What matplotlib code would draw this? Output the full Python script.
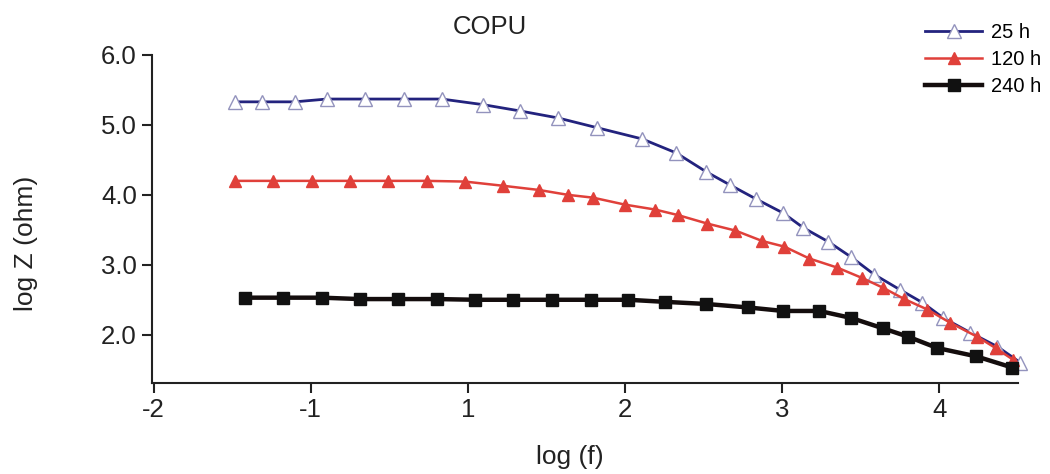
import matplotlib
matplotlib.use("Agg")
import matplotlib.pyplot as plt

plt.rcParams['font.family'] = ['Liberation Sans', 'DejaVu Sans']

# x positions on the drawn axis (tick labels below are the printed ones)
tick_pos = [-2, -1, 0, 1, 2, 3]
tick_labels = ['-2', '-1', '1', '2', '3', '4']
y_ticks = [2.0, 3.0, 4.0, 5.0, 6.0]

x_25h = [-1.484, -1.312, -1.102, -0.898, -0.656, -0.408, -0.166, 0.096, 0.331, 0.573,
         0.822, 1.108, 1.325, 1.516, 1.669, 1.834, 2.006, 2.134, 2.293, 2.439,
         2.586, 2.752, 2.892, 3.025, 3.197, 3.369, 3.516]
y_25h = [5.33, 5.33, 5.33, 5.37, 5.37, 5.37, 5.37, 5.29, 5.20, 5.10,
         4.96, 4.80, 4.60, 4.33, 4.14, 3.94, 3.74, 3.53, 3.33, 3.11,
         2.86, 2.64, 2.46, 2.24, 2.03, 1.83, 1.60]

x_120h = [-1.484, -1.242, -0.994, -0.752, -0.510, -0.261, -0.019, 0.223, 0.452, 0.637,
          0.796, 1.000, 1.191, 1.338, 1.522, 1.701, 1.873, 2.013, 2.172, 2.350,
          2.510, 2.643, 2.777, 2.924, 3.070, 3.242, 3.357, 3.471]
y_120h = [4.20, 4.20, 4.20, 4.20, 4.20, 4.20, 4.19, 4.13, 4.07, 4.00,
          3.96, 3.86, 3.79, 3.71, 3.59, 3.49, 3.34, 3.26, 3.09, 2.96,
          2.81, 2.67, 2.51, 2.36, 2.17, 1.97, 1.81, 1.64]

x_240h = [-1.420, -1.178, -0.930, -0.688, -0.446, -0.197, 0.045, 0.287, 0.535, 0.783,
          1.019, 1.255, 1.516, 1.783, 2.006, 2.236, 2.439, 2.643, 2.803, 2.987,
          3.236, 3.465]
y_240h = [2.53, 2.53, 2.53, 2.51, 2.51, 2.51, 2.50, 2.50, 2.50, 2.50,
          2.50, 2.47, 2.44, 2.39, 2.34, 2.34, 2.24, 2.09, 1.97, 1.81,
          1.69, 1.53]

fig = plt.figure(figsize=(10.5, 4.74), dpi=100)
ax = fig.add_axes([0.1448, 0.192, 0.8247, 0.692])

ax.plot(x_25h, y_25h, color='#23237e', lw=2.0, marker='^', ms=10,
        mfc='white', mec='#9393bd', mew=1.0, clip_on=False, label='25 h', zorder=3)
ax.plot(x_120h, y_120h, color='#e0403a', lw=1.8, marker='^', ms=8.5,
        mfc='#e0403a', mec='#e0403a', clip_on=False, label='120 h', zorder=4)
ax.plot(x_240h, y_240h, color='#140d0d', lw=3.2, marker='s', ms=8.5,
        mfc='#111111', mec='#111111', clip_on=False, label='240 h', zorder=5)

ax.set_xlim(-2.01, 3.5)
ax.set_ylim(1.31, 6.0)
ax.set_xticks(tick_pos)
ax.set_xticklabels(tick_labels)
ax.set_yticks(y_ticks)
ax.set_yticklabels([f'{v:.1f}' for v in y_ticks])

for s in ['top', 'right']:
    ax.spines[s].set_visible(False)
for s in ['left', 'bottom']:
    ax.spines[s].set_linewidth(1.5)
    ax.spines[s].set_color('#222222')
ax.tick_params(axis='both', direction='out', length=7, width=1.5, colors='#222222')
ax.tick_params(axis='y', labelsize=18.5, pad=4)
ax.tick_params(axis='x', labelsize=18.5, pad=4)

ax.set_xlabel('log (f)', fontsize=19, color='#222222')
ax.xaxis.set_label_coords(0.483, -0.19)
ax.set_ylabel('log Z (ohm)', fontsize=19, color='#222222')
ax.yaxis.set_label_coords(-0.132, 0.427)
ax.set_title('COPU', fontsize=18.5, pad=15, color='#222222', x=0.39)

leg = fig.legend(loc='upper left', bbox_to_anchor=(925 / 1050, 1 - 23 / 474),
                 frameon=False, fontsize=14.5, handlelength=2.85, handletextpad=0.45,
                 labelspacing=0.4, borderpad=0, borderaxespad=0)

fig.savefig('out.png', dpi=100)
